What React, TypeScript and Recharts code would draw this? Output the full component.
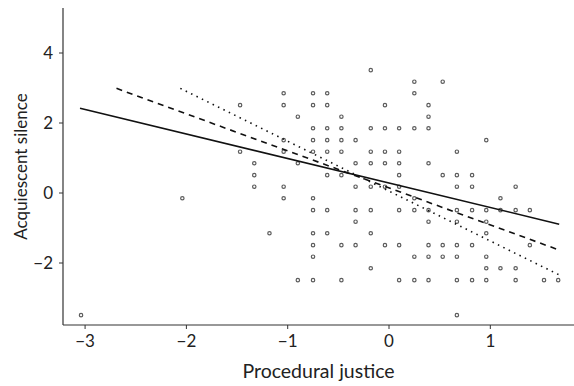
import React from 'react';
import { ScatterChart, Scatter, XAxis, YAxis, Label } from 'recharts';

// Acquiescent silence levels (rows) and the procedural justice values observed at each level
const silenceLevels = [3.51, 3.18, 2.85, 2.51, 2.18, 1.85, 1.51, 1.18, 0.85, 0.51, 0.18, -0.15, -0.49, -0.82, -1.15, -1.49, -1.82, -2.15, -2.49, -3.49];
const proceduralByLevel = [
  [-0.18],
  [0.25, 0.53],
  [-1.04, -0.75, -0.61, 0.25],
  [-1.47, -1.04, -0.75, -0.61, -0.04, 0.39],
  [-0.9, -0.47, 0.39],
  [-0.75, -0.61, -0.47, -0.18, -0.04, 0.1, 0.25, 0.39],
  [-1.04, -0.75, -0.61, -0.47, -0.33, 0.96],
  [-1.47, -1.04, -0.75, -0.61, -0.47, -0.18, -0.04, 0.1, 0.67],
  [-1.33, -0.9, -0.33, -0.18, -0.04, 0.1, 0.39],
  [-1.33, -0.61, -0.47, 0.1, 0.53, 0.67, 0.82],
  [-1.33, -1.04, -0.33, -0.18, -0.04, 0.1, 0.67, 0.82, 1.25],
  [-2.04, -1.04, -0.75, 0.25, 1.1],
  [-0.75, -0.61, -0.33, -0.18, 0.1, 0.25, 0.39, 0.67, 0.82, 0.96, 1.1, 1.25, 1.39],
  [-0.33, 0.39, 0.67, 0.96],
  [-1.18, -0.75, -0.61, -0.18, 0.96],
  [-0.75, -0.47, -0.33, -0.04, 0.1, 0.39, 0.53, 0.67, 0.82, 1.39],
  [-0.75, 0.25, 0.39, 0.53, 0.67, 0.96],
  [-0.18, 0.96, 1.1, 1.25],
  [-0.9, -0.75, -0.47, 0.1, 0.25, 0.39, 0.67, 0.82, 0.96, 1.25, 1.53, 1.67],
  [-3.04, 0.67],
];

// fitted lines (end points)
const solidFitX = [-3.05, 1.68];
const solidFitY = [2.42, -0.89];
const dashedFitX = [-2.69, 1.68];
const dashedFitY = [2.99, -1.63];
const dottedFitX = [-2.06, 1.68];
const dottedFitY = [2.99, -2.34];

const xTicks = [-3, -2, -1, 0, 1];
const yTicks = [-2, 0, 2, 4];

const points = silenceLevels.flatMap((y, i) => proceduralByLevel[i].map((x) => ({ x, y })));
const toLine = (xs: number[], ys: number[]) => xs.map((x, i) => ({ x, y: ys[i] }));

const FONT = 'Lato, sans-serif';
const fmt = (v: number) => (v < 0 ? '\u2212' + Math.abs(v) : String(v));

const Dot = (props: any) => {
  const { cx, cy } = props;
  if (cx == null || cy == null) return <g />;
  return <circle cx={cx} cy={cy} r={1.7} fill="none" stroke="#333" strokeOpacity={0.8} strokeWidth={1.2} />;
};
const NoShape = () => <g />;

const YLabel = (props: any) => {
  const { viewBox } = props;
  const cy = viewBox.y + viewBox.height / 2;
  return (
    <text x={20} y={cy} transform={`rotate(-90 20 ${cy})`} textAnchor="middle" dominantBaseline="central"
      fontFamily={FONT} fontSize={17} fill="#222">Acquiescent silence</text>
  );
};

export default function App() {
  return (
    <div style={{ position: 'absolute', left: 0, top: 0, width: 574, height: 386, overflow: 'hidden', background: '#fff' }}>
      <ScatterChart width={574} height={386} margin={{ top: 8, right: 0, bottom: 0, left: 0 }}>
        <XAxis xAxisId="top" orientation="top" type="number" dataKey="x" domain={[-3.218, 1.826]} allowDataOverflow
          height={0} tick={false} tickLine={false} axisLine={{ stroke: '#333', strokeWidth: 1.2 }} />
        <XAxis type="number" dataKey="x" domain={[-3.218, 1.826]} allowDataOverflow ticks={xTicks}
          tickFormatter={fmt} height={61} tickSize={4} tickMargin={6}
          tick={{ fontFamily: FONT, fontSize: 17, fill: '#222' }}
          tickLine={{ stroke: '#333' }} axisLine={{ stroke: '#333', strokeWidth: 1.2 }}>
          <Label value="Procedural justice" position="insideBottom" offset={8}
            style={{ fontFamily: FONT, fontSize: 19.5, fill: '#222' }} />
        </XAxis>
        <YAxis type="number" dataKey="y" domain={[-3.771, 5.286]} allowDataOverflow ticks={yTicks}
          tickFormatter={fmt} width={63} tickSize={4} tickMargin={6}
          tick={{ fontFamily: FONT, fontSize: 17, fill: '#222' }}
          tickLine={{ stroke: '#333' }} axisLine={{ stroke: '#333', strokeWidth: 1.2 }}>
          <Label content={<YLabel />} />
        </YAxis>
        <Scatter data={points} shape={<Dot />} isAnimationActive={false} />
        <Scatter data={toLine(solidFitX, solidFitY)} shape={<NoShape />} line={{ stroke: '#111', strokeWidth: 1.6 }} lineType="joint" isAnimationActive={false} />
        <Scatter data={toLine(dashedFitX, dashedFitY)} shape={<NoShape />} line={{ stroke: '#111', strokeWidth: 1.6, strokeDasharray: '6 5' }} lineType="joint" isAnimationActive={false} />
        <Scatter data={toLine(dottedFitX, dottedFitY)} shape={<NoShape />} line={{ stroke: '#111', strokeWidth: 1.6, strokeDasharray: '1.5 4.5' }} lineType="joint" isAnimationActive={false} />
      </ScatterChart>
    </div>
  );
}
